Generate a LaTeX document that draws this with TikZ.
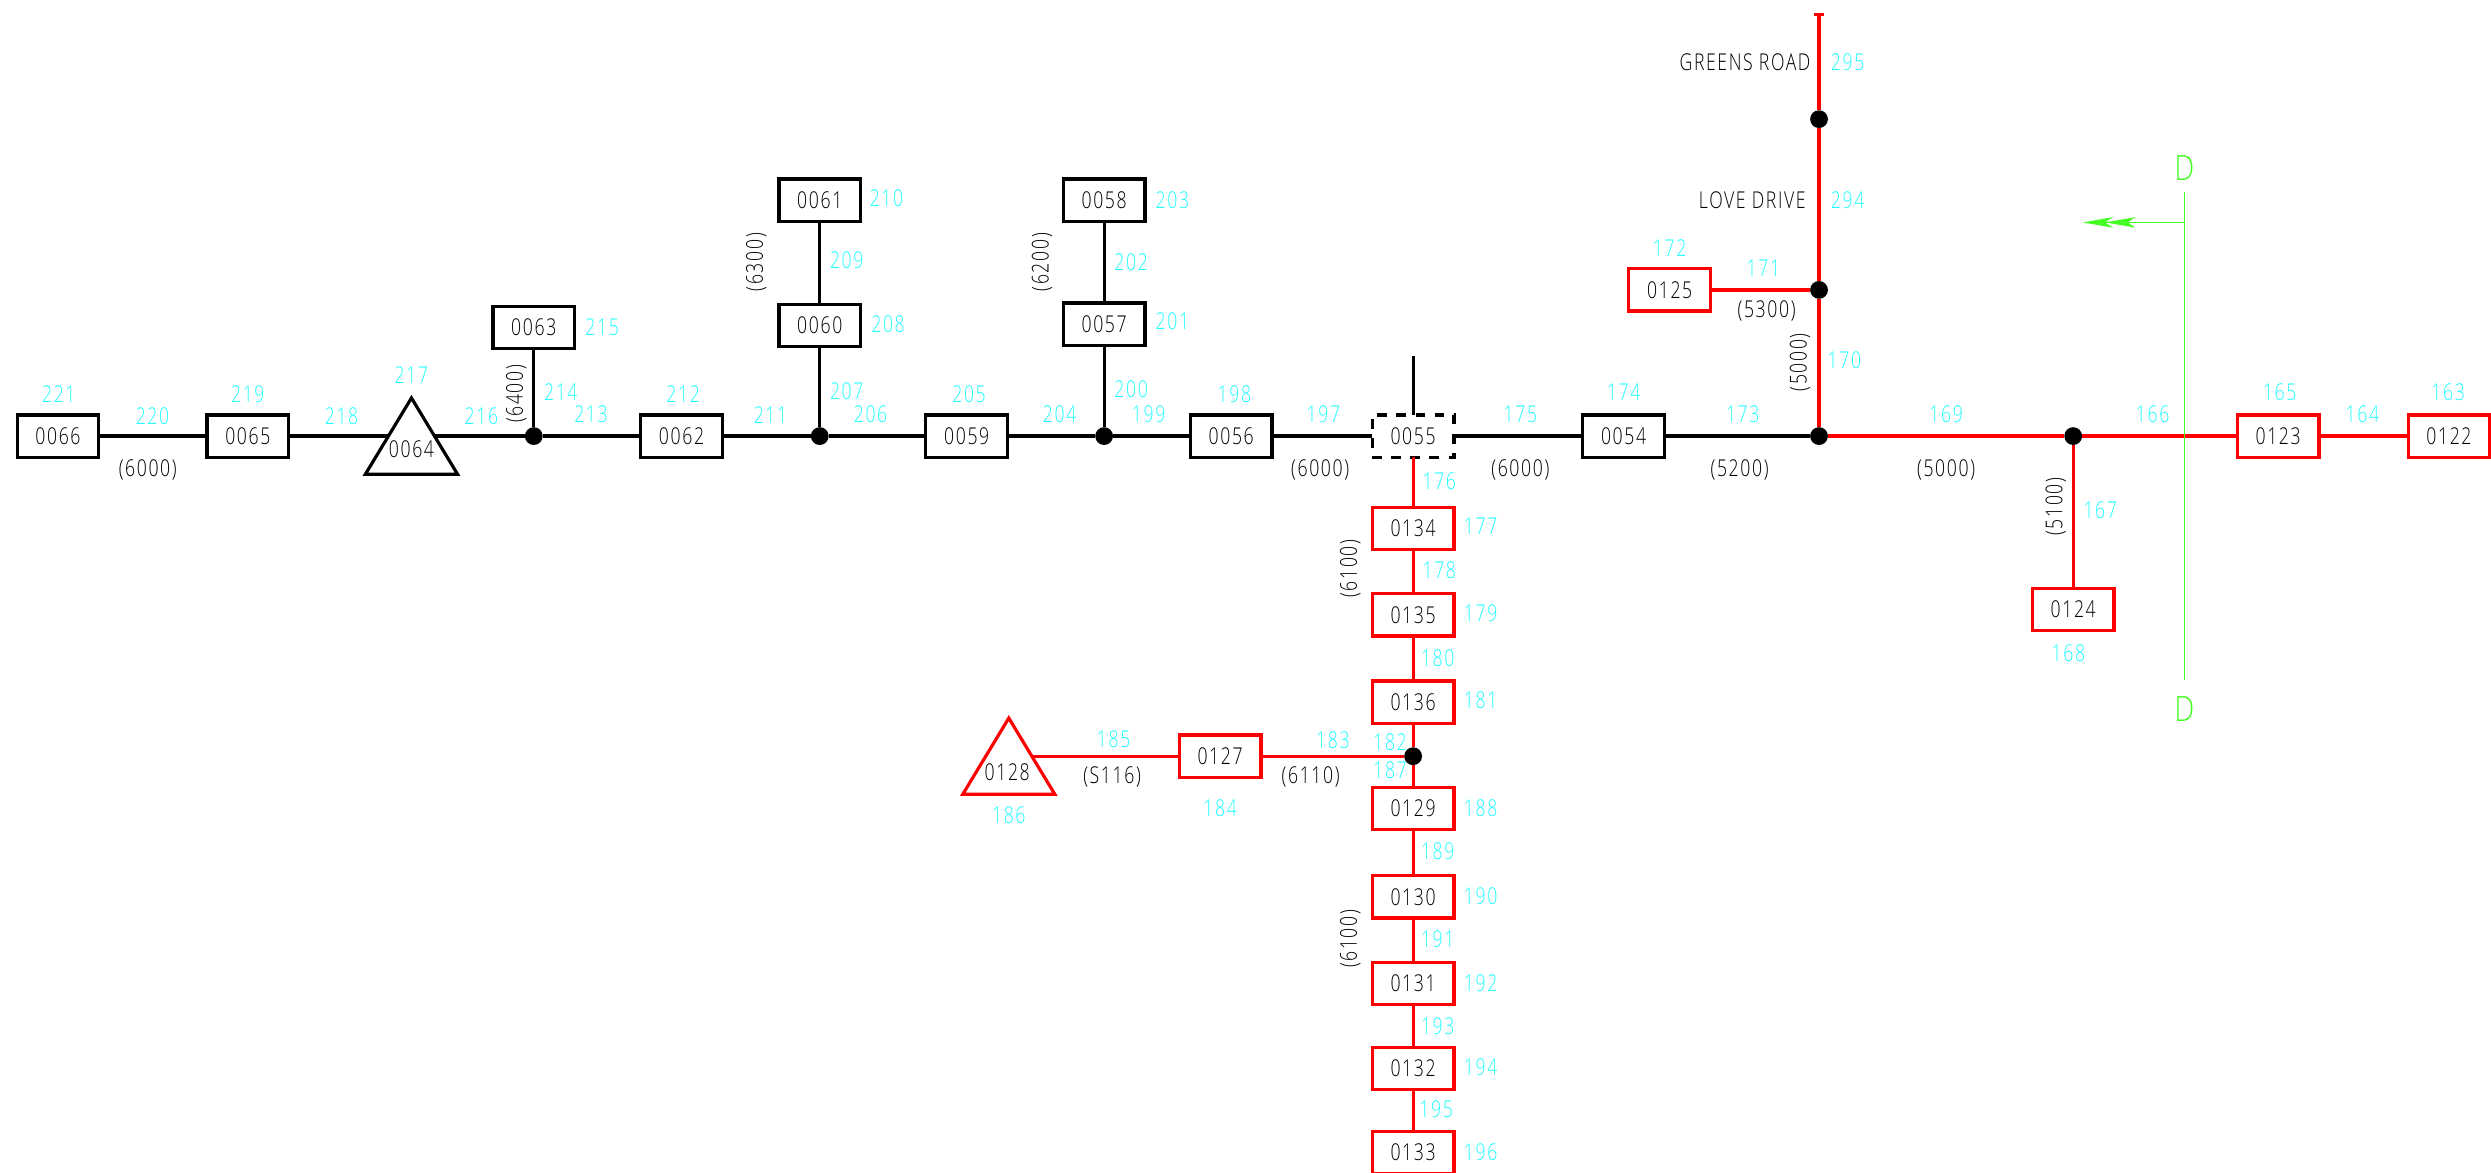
\documentclass[tikz,border=0pt]{standalone}
\usepackage{fontspec}
\setmainfont{Open Sans Light}[LetterSpace=7,FakeStretch=0.76]
\usetikzlibrary{arrows.meta,shapes.geometric}
\definecolor{lblcyan}{HTML}{22FFFF}
\definecolor{grn}{HTML}{44FF22}
\definecolor{rd}{HTML}{FF0000}
\tikzset{
  boxb/.style={draw=black,line width=1pt,fill=white,minimum width=25.7pt,minimum height=13.3pt,inner sep=0pt,outer sep=0pt,font=\fontsize{7.3}{8}\selectfont,text=black},
  boxr/.style={boxb,draw=rd},
  boxd/.style={boxb,dash pattern=on 3.1pt off 2.9pt},
  tri/.style={isosceles triangle,isosceles triangle stretches,shape border rotate=90,minimum width=29pt,minimum height=24pt,inner sep=0pt,outer sep=0pt,line width=1pt,fill=white},
  trilbl/.style={font=\fontsize{7.3}{8}\selectfont,inner sep=0pt,text=black},
  blk/.style={line width=1pt,draw=black},
  red/.style={line width=1pt,draw=rd},
  junc/.style={circle,fill=black,minimum size=5.6pt,inner sep=0pt,outer sep=0pt},
  cyl/.style={text=lblcyan,font=\fontsize{7.3}{8}\selectfont,inner sep=0pt},
  bkl/.style={text=black,font=\fontsize{7.3}{8}\selectfont,inner sep=0pt},
  gl/.style={line width=.4pt,draw=grn},
}
\begin{document}
\begin{tikzpicture}[x=0.5pt,y=-0.5pt]
\useasboundingbox (0,0) rectangle (1568,738.2);
\clip (0,0) rectangle (1568,738.2);
% boxes
\foreach \n/\x/\y in {0066/36.5/274.5,0065/156/274.5,0062/429/274.5,0059/608.5/274.5,0056/775/274.5,0054/1022/274.5,0063/336/206,0060/516/205,0061/516/126,0057/695/204,0058/695/126}
  \node[boxb] (n\n) at (\x,\y) {\n};
\node[boxd] (n0055) at (889.5,274.5) {0055};
\foreach \n/\x/\y in {0125/1051/182.5,0123/1434/274.5,0122/1541.5/274.5,0124/1305/383.5,0134/889.5/332.5,0135/889.5/387,0136/889.5/442,0129/889.5/509,0130/889.5/564.5,0131/889.5/619,0132/889.5/672.5,0133/889.5/725.5,0127/768/476}
  \node[boxr] (n\n) at (\x,\y) {\n};
% triangles
\node[tri,draw=black,anchor=apex] (n0064) at (259,250.5) {};
\node[trilbl] (l0064) at (259,283) {0064};
\node[tri,draw=rd,anchor=apex] (n0128) at (635,452) {};
\node[trilbl] (l0128) at (634,486) {0128};
\coordinate (t64l) at (244.5,274.5);
\coordinate (t64r) at (273.5,274.5);
\coordinate (t128r) at (650,476);
% junctions
\foreach \n/\x/\y in {j336/336/274.5,j516/516/274.5,j695/695/274.5,j1145/1145/274.5,j1305/1305/274.5,j889/889.5/476,j1145b/1145/182.5,j1145c/1145/75}
  \node[junc] (\n) at (\x,\y) {};
\coordinate (stub) at (889.5,224);
\coordinate (topend) at (1145,9);
\coordinate (tickl) at (1142,9);
\coordinate (tickr) at (1148,9);
% black connectors
\foreach \a/\b in {n0066/n0065,n0065/t64l,t64r/j336,j336/n0062,n0062/j516,j516/n0059,n0059/j695,j695/n0056,n0056/n0055,n0055/n0054,n0054/j1145,n0063/j336,n0060/j516,n0061/n0060,n0057/j695,n0058/n0057,n0055/stub}
  \draw[blk] (\a) -- (\b);
% red connectors
\foreach \a/\b in {j1145/j1305,j1305/n0123,n0123/n0122,j1305/n0124,j1145/j1145b,j1145b/j1145c,j1145c/topend,n0125/j1145b,n0055/n0134,n0134/n0135,n0135/n0136,n0136/j889,j889/n0129,n0129/n0130,n0130/n0131,n0131/n0132,n0132/n0133,j889/n0127,n0127/t128r,tickl/tickr}
  \draw[red] (\a) -- (\b);
% green section marker
\coordinate (g1) at (1375,121);
\coordinate (g2) at (1375,428);
\coordinate (g3) at (1375,140);
\coordinate (g4) at (1311,140);
\draw[gl] (g1) -- (g2);
\draw[gl,-{Stealth[length=9.5pt,width=3.3pt,inset=2.5pt,sep=-2.4pt]Stealth[length=9.5pt,width=3.3pt,inset=2.5pt]}] (g3) -- (g4);
\node[text=grn,font=\fontsize{11}{12}\selectfont,inner sep=0pt,xscale=1.05] (dtop) at (1375,106) {D};
\node[text=grn,font=\fontsize{11}{12}\selectfont,inner sep=0pt,xscale=1.05] (dbot) at (1375,446) {D};
% cyan labels
\foreach \t/\x/\y in {221/37/248,220/96/262,219/156/248,218/215/262,217/259/236,216/303/262,214/353/247,213/372/261,215/379/206,212/430/248,211/485/261,207/533/246,206/548/261,205/610/248,204/667/261,200/712/245,199/723/261,198/777/248,197/833/261,208/559/204,209/533/164,210/558/125,203/738/126,202/712/165,201/738/202,176/906/303,177/932/331,178/906/359,179/932/386,180/905/414,181/932/441,182/875/467,187/875/485,188/932/509,189/905/536,190/932/564,191/905/591,192/932/619,193/905/646,194/932/672,195/904/698,196/932/725,175/957/261,174/1022/247,173/1097/261,170/1161/227,169/1225/261,172/1051/156,171/1110/169,295/1163/39,294/1163/126,167/1322/321,168/1302/411,166/1355/261,165/1435/247,164/1487/261,163/1541/247,185/701/465,183/839/466,184/768/509,186/635/513}
  \node[cyl] (c\t) at (\x,\y) {\t};
% black labels
\foreach \i/\t/\x/\y in {1/(6000)/93/296,2/(6000)/831/296,3/(6000)/957/296,4/(5200)/1095/296,5/(5300)/1112/196,6/(5000)/1225/296,7/(S116)/700/489,8/(6110)/825/489}
  \node[bkl] (b\i) at (\x,\y) {\t};
\foreach \i/\t/\x/\y in {1/(6400)/325/248,2/(6300)/476/165,3/(6200)/656/165,4/(5000)/1133/228,5/(5100)/1294/319,6/(6100)/850/358,7/(6100)/850/591}
  \node[bkl,rotate=90] (r\i) at (\x,\y) {\t};
\node[bkl,anchor=east] (greens) at (1140,39) {GREENS ROAD};
\node[bkl,anchor=east] (love) at (1137,126) {LOVE DRIVE};
\end{tikzpicture}
\end{document}
